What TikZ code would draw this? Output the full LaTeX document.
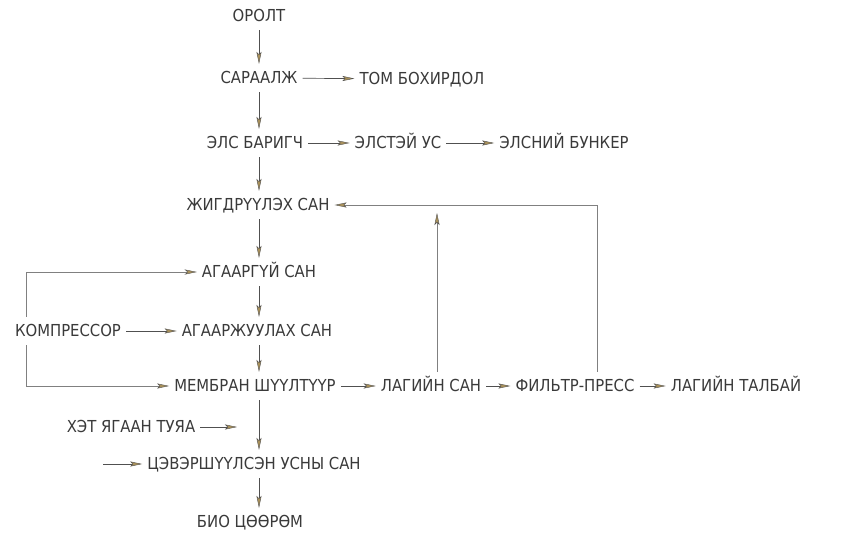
\documentclass[tikz,border=0pt]{standalone}
\usepackage{fontspec}
\setmainfont{DejaVu Sans Condensed}
\usetikzlibrary{arrows.meta}
\definecolor{txt}{HTML}{3A3A3A}
\definecolor{tipc}{HTML}{A8905A}
\definecolor{ln}{HTML}{505050}
\definecolor{lp}{HTML}{808080}
\begin{document}
\begin{tikzpicture}[x=1pt,y=-1pt,
  lbl/.style={font=\fontsize{16.5}{16.5}\selectfont, text=txt, inner xsep=5pt, inner ysep=8pt, text height=11.8pt, text depth=0pt},
  flow/.style={draw=ln, line width=0.7pt, -{Stealth[length=12pt,width=5pt,inset=2.5pt,fill=tipc,color=ln,line width=0.4pt]}},
  loopl/.style={flow, draw=lp}]
\fill[white] (0,0) rectangle (855,535);
\useasboundingbox (0,0) rectangle (855,535);
\coordinate (col) at (259,0);
\node[lbl] (orolt) at (259,16) {ОРОЛТ};
\node[lbl] (sar) at (259,78) {САРААЛЖ};
\node[lbl] (tom) at (422,79) {ТОМ БОХИРДОЛ};
\node[lbl] (els) at (255,143) {ЭЛС БАРИГЧ};
\node[lbl] (elstei) at (398,143) {ЭЛСТЭЙ УС};
\node[lbl] (bunker) at (564,143) {ЭЛСНИЙ БУНКЕР};
\node[lbl] (zhig) at (258,205) {ЖИГДРҮҮЛЭХ САН};
\node[lbl] (agg) at (259,272) {АГААРГҮЙ САН};
\node[lbl] (komp) at (68,331) {КОМПРЕССОР};
\node[lbl] (agzh) at (257,331) {АГААРЖУУЛАХ САН};
\node[lbl] (mem) at (255,386) {МЕМБРАН ШҮҮЛТҮҮР};
\node[lbl] (lag) at (431,386) {ЛАГИЙН САН};
\node[lbl] (fil) at (575,386) {ФИЛЬТР-ПРЕСС};
\node[lbl] (tal) at (736,386) {ЛАГИЙН ТАЛБАЙ};
\node[lbl] (uv) at (131,427) {ХЭТ ЯГААН ТУЯА};
\node[lbl] (tsev) at (254,464) {ЦЭВЭРШҮҮЛСЭН УСНЫ САН};
\node[lbl] (bio) at (250,522) {БИО ЦӨӨРӨМ};
\coordinate (fx) at (597,0);
\coordinate (lx) at (437,0);
\coordinate (kx) at (26,0);
\coordinate (lagtop) at (437,213);
\coordinate (uvend) at (237,427);
\coordinate (tsin) at (103,464);
% main column
\draw[flow] (orolt.south -| col) -- (sar.north -| col);
\draw[flow] (sar.south -| col) -- (els.north -| col);
\draw[flow] (els.south -| col) -- (zhig.north -| col);
\draw[flow] (zhig.south -| col) -- (agg.north -| col);
\draw[flow] (agg.south -| col) -- (agzh.north -| col);
\draw[flow] (agzh.south -| col) -- (mem.north -| col);
\draw[flow] (mem.south -| col) -- (tsev.north -| col);
\draw[flow] (tsev.south -| col) -- (bio.north -| col);
% side branches
\draw[flow] (sar) -- (tom);
\draw[flow] (els) -- (elstei);
\draw[flow] (elstei) -- (bunker);
\draw[flow] (komp) -- (agzh);
\draw[flow] (mem) -- (lag);
\draw[flow] (lag) -- (fil);
\draw[flow] (fil) -- (tal);
\draw[flow] (uv.east) -- (uvend);
\draw[flow] (tsin) -- (tsev.west);
% returns
\draw[loopl] (fil.north -| fx) |- (zhig.east);
\draw[loopl] (lag.north -| lx) -- (lagtop);
\draw[loopl] (komp.north -| kx) |- (agg.west);
\draw[loopl] (komp.south -| kx) |- (mem.west);
\end{tikzpicture}
\end{document}
